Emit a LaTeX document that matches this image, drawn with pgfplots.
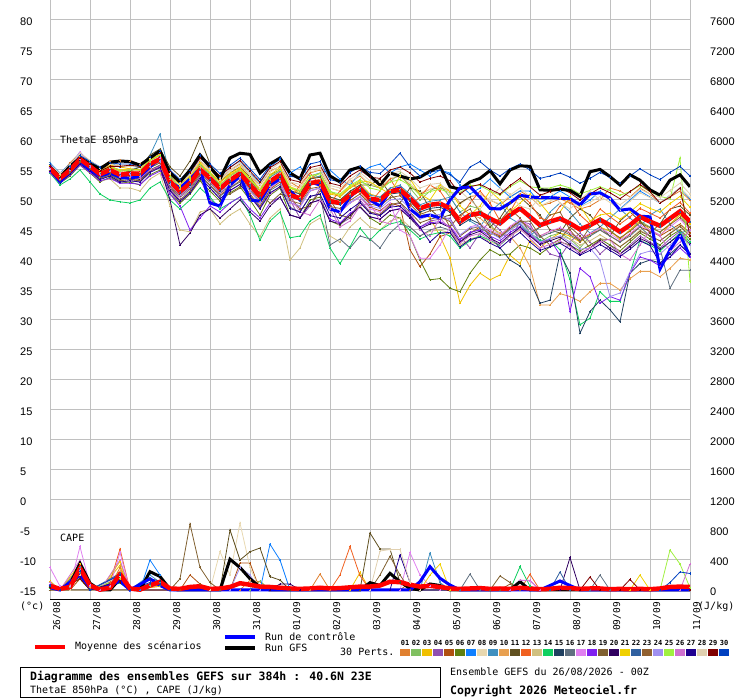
\documentclass[border=0pt]{standalone}
\usepackage{pgfplots}
\pgfplotsset{compat=1.18}
\usepackage{fontspec}
\setmainfont{DejaVu Sans Mono}
\newfontfamily\numf{Liberation Sans}
\definecolor{c01}{HTML}{E08030}\definecolor{c02}{HTML}{80C060}\definecolor{c03}{HTML}{F0C000}
\definecolor{c04}{HTML}{9050B0}\definecolor{c05}{HTML}{B05010}\definecolor{c06}{HTML}{608010}
\definecolor{c07}{HTML}{1080FF}\definecolor{c08}{HTML}{E8D8B0}\definecolor{c09}{HTML}{4090C0}
\definecolor{c10}{HTML}{E8A050}\definecolor{c11}{HTML}{605020}\definecolor{c12}{HTML}{F06020}
\definecolor{c13}{HTML}{D0C080}\definecolor{c14}{HTML}{10D060}\definecolor{c15}{HTML}{204060}
\definecolor{c16}{HTML}{607080}\definecolor{c17}{HTML}{E080F0}\definecolor{c18}{HTML}{8020F0}
\definecolor{c19}{HTML}{806030}\definecolor{c20}{HTML}{300060}\definecolor{c21}{HTML}{F0D000}
\definecolor{c22}{HTML}{3060A0}\definecolor{c23}{HTML}{906030}\definecolor{c24}{HTML}{A090F0}
\definecolor{c25}{HTML}{A0F040}\definecolor{c26}{HTML}{D070D0}\definecolor{c27}{HTML}{200090}
\definecolor{c28}{HTML}{E0D0B0}\definecolor{c29}{HTML}{800000}\definecolor{c30}{HTML}{0040C0}
\definecolor{gridc}{RGB}{192,192,192}
\pgfplotsset{table/tv/.style={header=false,row sep=\\,x expr=\coordindex,y index=0},
 mem/.style={line width=0.8bp, mark=+, mark size=1.2bp, mark options={solid}},
 meanst/.style={red, line width=4.5bp, no marks},
 ctrlst/.style={blue, line width=3bp, no marks},
 gfsst/.style={black, line width=3bp, no marks}}
\begin{document}
\begin{tikzpicture}[font=\fontsize{10bp}{12bp}\selectfont]
\path[use as bounding box] (0bp,0bp) rectangle (740bp,700bp);
\begin{axis}[at={(50bp,100bp)}, anchor=south west, scale only axis, width=640bp, height=600bp,
 xmin=0, xmax=64, ymin=-16.6667, ymax=83.3333,
 xtick={0,4,...,64},
 xticklabels={26/08,27/08,28/08,29/08,30/08,31/08,01/09,02/09,03/09,04/09,05/09,06/09,07/09,08/09,09/09,10/09,11/09},
 ytick={-15,-10,...,80},
 grid=major, grid style={draw=gridc, line width=1bp},
 axis line style={draw=none}, major tick length=0pt,
 xticklabel style={font=\fontsize{9.5bp}{10bp}\selectfont, xshift=7bp, yshift=-2bp, rotate=90, anchor=east, inner sep=0pt},
 yticklabel style={font=\numf\fontsize{11bp}{12bp}\selectfont, anchor=west, inner sep=0pt, xshift=-30bp, yshift=-2bp},
 /pgf/number format/assume math mode=true]
% ---- members ThetaE
\addplot[mem,c01] table[tv]{56.0\\54.2\\56.2\\57.8\\56.5\\55.5\\56.4\\56.6\\56.5\\56.0\\57.2\\57.8\\54.5\\53.0\\54.2\\56.5\\55.0\\53.5\\55.0\\56.0\\54.0\\52.5\\54.8\\55.6\\53.0\\52.0\\54.5\\55.0\\52.0\\51.5\\53.0\\54.0\\52.5\\52.0\\53.5\\54.0\\52.5\\51.0\\51.8\\52.0\\51.5\\49.5\\50.5\\51.0\\50.0\\49.2\\50.5\\51.5\\50.5\\49.0\\49.5\\50.2\\49.5\\48.5\\49.0\\50.0\\52.0\\51.5\\50.5\\52.0\\51.0\\49.5\\50.5\\51.5\\50.0\\};
\addplot[mem,c02] table[tv]{55.0\\53.2\\54.6\\56.5\\55.2\\53.8\\54.2\\53.5\\53.8\\53.6\\55.4\\56.2\\52.0\\50.5\\52.0\\54.5\\53.0\\51.0\\52.5\\53.8\\51.5\\49.5\\52.4\\53.6\\52.0\\51.5\\53.5\\54.5\\51.5\\50.5\\52.0\\53.0\\52.5\\52.0\\53.0\\54.5\\52.0\\50.0\\51.5\\52.5\\50.5\\48.0\\49.0\\48.5\\46.0\\44.0\\45.0\\46.0\\44.5\\43.0\\44.0\\44.5\\43.5\\42.0\\44.0\\45.0\\45.0\\43.5\\45.0\\46.5\\45.5\\44.6\\46.0\\47.5\\45.5\\};
\addplot[mem,c03] table[tv]{55.8\\54.0\\55.5\\57.3\\56.0\\55.0\\55.8\\55.5\\55.2\\55.0\\56.8\\57.5\\54.0\\52.6\\53.8\\56.0\\54.5\\53.0\\54.2\\55.2\\53.5\\51.8\\54.0\\55.0\\52.0\\51.2\\53.6\\54.0\\51.0\\50.6\\52.0\\52.8\\51.0\\50.5\\52.0\\52.5\\50.5\\48.0\\47.0\\44.0\\40.3\\32.8\\35.8\\37.8\\36.7\\37.5\\40.8\\39.4\\43.3\\42.0\\43.5\\44.5\\44.0\\43.0\\44.2\\45.5\\44.8\\43.5\\45.0\\46.5\\45.0\\44.0\\46.0\\47.5\\46.0\\};
\addplot[mem,c04] table[tv]{54.8\\53.0\\54.4\\56.0\\54.8\\53.5\\54.0\\53.0\\53.2\\53.0\\54.8\\55.5\\51.5\\49.5\\51.0\\53.5\\50.0\\49.0\\52.0\\54.0\\52.5\\51.0\\52.0\\53.5\\50.0\\47.0\\49.0\\52.0\\49.5\\46.0\\47.0\\50.0\\48.0\\47.5\\49.0\\49.5\\47.5\\45.5\\46.5\\46.8\\47.0\\44.0\\42.0\\44.5\\46.5\\45.0\\43.0\\46.5\\46.0\\43.0\\41.0\\40.5\\43.0\\44.5\\43.0\\41.0\\42.5\\41.0\\42.5\\44.0\\43.0\\42.0\\43.5\\44.8\\43.0\\};
\addplot[mem,c05] table[tv]{55.2\\53.5\\55.0\\56.6\\55.3\\54.0\\54.6\\53.8\\53.5\\53.2\\55.0\\55.8\\52.0\\50.8\\52.2\\54.2\\52.5\\50.8\\52.0\\53.2\\51.0\\49.0\\51.8\\53.0\\49.5\\49.0\\51.5\\52.0\\48.5\\48.0\\49.5\\50.5\\48.8\\48.2\\49.5\\49.0\\41.7\\38.9\\41.0\\43.9\\44.5\\43.0\\44.5\\45.5\\44.8\\44.0\\45.5\\46.5\\45.5\\44.0\\44.8\\45.2\\44.5\\43.5\\44.3\\45.0\\44.0\\43.0\\44.3\\45.5\\44.8\\44.0\\45.0\\46.0\\44.5\\};
\addplot[mem,c06] table[tv]{54.5\\52.8\\54.0\\55.8\\54.5\\53.0\\53.8\\52.8\\53.0\\52.5\\54.2\\55.0\\51.0\\49.5\\51.0\\53.2\\51.5\\49.8\\51.2\\52.2\\50.0\\47.5\\50.8\\52.0\\47.5\\47.0\\50.0\\50.5\\46.5\\45.8\\47.5\\49.0\\47.0\\46.0\\47.5\\47.0\\44.0\\40.0\\36.7\\36.9\\35.3\\34.7\\37.8\\40.0\\41.7\\40.8\\41.0\\42.5\\42.0\\41.0\\42.2\\43.0\\42.5\\41.5\\42.5\\43.5\\42.5\\41.5\\43.0\\44.5\\43.5\\42.5\\44.0\\45.0\\43.5\\};
\addplot[mem,c07] table[tv]{56.2\\54.5\\56.0\\57.5\\56.5\\55.5\\56.2\\55.5\\55.8\\55.5\\57.0\\58.0\\54.8\\53.0\\54.5\\57.0\\55.5\\53.8\\55.5\\56.5\\54.5\\52.8\\55.5\\56.8\\54.5\\55.5\\54.0\\54.5\\55.0\\53.5\\52.5\\54.5\\55.5\\56.0\\54.5\\55.5\\56.0\\55.0\\54.0\\55.0\\54.5\\52.5\\51.0\\52.0\\53.5\\52.0\\50.5\\51.5\\51.5\\49.5\\50.5\\51.5\\50.5\\49.0\\50.0\\51.5\\50.0\\48.5\\50.0\\51.5\\50.5\\49.5\\50.8\\52.0\\50.2\\};
\addplot[mem,c08] table[tv]{55.9\\54.3\\55.8\\57.6\\56.4\\55.2\\56.0\\55.6\\55.6\\55.4\\56.8\\57.6\\54.2\\52.5\\53.9\\56.3\\55.0\\53.2\\54.8\\55.8\\54.0\\52.0\\54.6\\55.7\\52.5\\52.0\\54.6\\55.2\\52.0\\51.5\\53.0\\54.2\\52.6\\52.2\\53.6\\54.2\\52.8\\51.2\\51.8\\52.4\\51.6\\49.2\\50.6\\51.0\\50.0\\49.3\\50.8\\52.0\\50.6\\49.0\\49.8\\50.6\\49.8\\48.8\\49.6\\50.6\\49.6\\48.4\\49.8\\51.2\\50.4\\49.6\\50.8\\52.0\\50.4\\};
\addplot[mem,c09] table[tv]{56.2\\54.0\\55.8\\58.0\\56.2\\54.8\\55.6\\55.0\\55.0\\55.5\\57.5\\61.0\\54.0\\52.0\\53.5\\56.0\\54.0\\52.5\\54.0\\55.0\\53.0\\51.0\\53.8\\54.8\\51.5\\51.0\\53.5\\54.0\\50.5\\50.0\\51.5\\52.5\\50.8\\50.5\\52.0\\52.4\\51.0\\49.2\\49.8\\50.0\\50.5\\48.0\\46.5\\45.5\\48.0\\49.5\\47.0\\46.0\\44.0\\45.5\\48.0\\49.5\\48.0\\46.0\\44.5\\45.5\\47.0\\48.5\\47.0\\45.5\\47.5\\48.5\\46.0\\44.5\\45.0\\};
\addplot[mem,c10] table[tv]{55.5\\53.8\\55.3\\57.0\\55.8\\54.6\\55.3\\54.6\\54.8\\54.6\\56.2\\57.0\\53.5\\51.8\\53.2\\55.4\\54.0\\52.2\\53.6\\54.8\\52.8\\51.0\\53.4\\54.5\\51.0\\50.5\\53.0\\53.4\\50.0\\49.7\\51.0\\52.0\\50.5\\50.2\\51.6\\51.8\\50.5\\48.8\\49.4\\49.6\\48.8\\46.6\\47.6\\47.0\\45.5\\44.5\\44.0\\42.0\\38.9\\32.5\\32.5\\34.4\\33.9\\33.1\\34.7\\36.1\\36.1\\35.0\\36.9\\38.1\\38.1\\37.2\\38.6\\40.3\\40.0\\};
\addplot[mem,c11] table[tv]{55.0\\53.2\\54.8\\56.4\\55.2\\54.0\\54.8\\54.4\\54.8\\55.5\\57.5\\58.5\\55.5\\54.0\\56.5\\60.4\\56.0\\53.0\\54.5\\55.5\\53.8\\51.6\\54.2\\55.0\\51.6\\51.0\\53.5\\53.8\\50.5\\50.0\\51.4\\52.5\\52.5\\53.5\\51.0\\49.5\\52.0\\51.5\\48.5\\47.0\\47.5\\49.5\\50.5\\48.0\\45.5\\47.0\\49.5\\50.5\\49.0\\47.5\\45.0\\44.5\\47.0\\48.5\\47.5\\45.5\\44.0\\46.5\\48.0\\46.5\\44.5\\46.0\\48.5\\49.0\\47.5\\};
\addplot[mem,c12] table[tv]{55.6\\53.9\\55.4\\57.2\\56.0\\54.8\\55.5\\54.8\\55.0\\55.0\\56.6\\57.4\\53.8\\52.2\\53.6\\55.8\\54.4\\52.6\\54.0\\55.0\\53.2\\51.5\\54.0\\55.0\\50.0\\52.5\\54.5\\52.5\\49.5\\51.5\\53.5\\51.0\\49.5\\51.5\\53.5\\51.0\\49.0\\50.5\\52.5\\51.5\\49.0\\47.0\\49.5\\51.5\\49.5\\46.5\\48.0\\51.0\\49.5\\47.0\\46.5\\49.0\\50.0\\47.5\\46.0\\48.5\\47.2\\46.0\\47.2\\48.6\\47.8\\47.0\\48.4\\49.6\\47.8\\};
\addplot[mem,c13] table[tv]{54.8\\53.0\\54.4\\56.0\\54.8\\53.2\\53.5\\52.0\\52.0\\51.5\\53.5\\54.5\\49.0\\45.0\\44.7\\48.0\\48.5\\46.0\\47.5\\48.5\\46.0\\43.9\\47.0\\48.5\\40.0\\42.0\\46.0\\47.0\\44.0\\43.0\\45.5\\47.0\\45.5\\45.0\\46.5\\47.0\\45.5\\44.0\\44.8\\45.0\\44.5\\42.5\\43.5\\44.0\\43.0\\42.5\\44.0\\45.0\\44.0\\42.8\\43.5\\44.0\\43.5\\42.5\\43.2\\44.2\\43.2\\42.2\\43.5\\45.0\\44.0\\43.2\\44.5\\45.8\\44.0\\};
\addplot[mem,c14] table[tv]{54.5\\52.5\\53.5\\55.0\\53.0\\51.0\\50.0\\49.7\\49.5\\50.0\\52.0\\53.0\\50.0\\48.5\\50.0\\52.0\\50.5\\48.5\\49.5\\50.5\\47.5\\43.3\\46.5\\48.0\\43.7\\44.0\\46.5\\47.5\\42.0\\39.4\\42.2\\45.3\\43.3\\45.0\\46.0\\46.4\\45.0\\43.5\\44.2\\44.6\\44.0\\42.0\\43.2\\44.0\\43.3\\42.5\\44.0\\45.5\\44.5\\43.3\\43.3\\41.7\\36.7\\29.2\\30.3\\34.7\\33.1\\33.1\\37.8\\43.3\\42.5\\41.5\\43.0\\44.5\\43.0\\};
\addplot[mem,c15] table[tv]{55.4\\53.6\\55.0\\56.6\\55.4\\54.0\\54.8\\54.0\\54.2\\54.0\\55.6\\56.4\\52.8\\51.0\\52.5\\54.8\\53.2\\51.5\\53.0\\54.0\\52.0\\50.2\\52.8\\53.8\\50.5\\50.0\\52.5\\52.8\\49.5\\49.2\\50.5\\51.5\\50.0\\49.8\\51.0\\51.2\\49.8\\48.0\\48.6\\48.8\\48.0\\45.8\\46.8\\46.0\\44.0\\42.0\\40.0\\39.0\\36.7\\32.8\\33.3\\41.1\\37.8\\27.8\\31.4\\33.3\\31.7\\29.7\\37.8\\39.4\\40.0\\39.5\\41.0\\42.5\\41.0\\};
\addplot[mem,c16] table[tv]{55.0\\53.3\\54.6\\56.4\\55.0\\53.6\\54.3\\53.4\\53.6\\53.4\\55.0\\55.8\\52.0\\50.4\\51.8\\54.0\\52.4\\50.6\\52.0\\53.0\\50.8\\48.8\\51.6\\52.6\\48.8\\48.0\\50.6\\51.0\\42.5\\43.5\\42.0\\44.0\\43.5\\42.0\\44.5\\46.0\\45.5\\44.0\\45.0\\45.5\\45.0\\43.0\\44.5\\45.2\\44.5\\43.8\\45.2\\46.5\\45.2\\43.8\\44.5\\45.0\\44.2\\43.2\\44.0\\45.0\\44.0\\43.0\\44.0\\45.5\\44.0\\42.0\\35.3\\38.3\\38.3\\};
\addplot[mem,c17] table[tv]{55.6\\53.8\\55.6\\58.0\\56.0\\54.5\\55.3\\54.5\\54.5\\54.2\\56.0\\57.0\\52.5\\50.5\\52.0\\54.8\\53.0\\51.0\\52.5\\53.8\\51.5\\49.5\\52.0\\53.2\\49.5\\48.8\\51.5\\52.0\\48.5\\48.0\\49.5\\50.5\\48.5\\48.0\\49.5\\45.0\\44.0\\40.3\\40.3\\42.5\\45.5\\44.0\\45.5\\46.0\\45.0\\44.2\\45.6\\46.8\\45.5\\44.0\\44.8\\45.4\\44.6\\43.6\\44.4\\45.3\\44.4\\43.3\\44.4\\45.8\\45.0\\44.2\\45.5\\46.8\\45.0\\};
\addplot[mem,c18] table[tv]{54.6\\52.8\\54.2\\55.8\\54.6\\53.2\\53.6\\52.8\\52.8\\52.6\\54.0\\54.8\\51.0\\49.0\\45.0\\47.0\\49.0\\48.0\\49.5\\50.5\\48.5\\47.0\\49.5\\50.5\\47.5\\47.0\\49.5\\50.0\\46.8\\46.2\\47.8\\48.8\\47.2\\46.8\\48.2\\48.6\\47.2\\45.5\\46.2\\46.4\\45.6\\43.4\\44.6\\45.0\\44.0\\43.2\\44.6\\45.6\\44.2\\42.8\\43.5\\40.8\\31.4\\38.6\\37.2\\32.8\\33.9\\33.3\\37.8\\40.5\\40.0\\39.0\\40.5\\42.0\\40.5\\};
\addplot[mem,c19] table[tv]{54.9\\53.0\\54.5\\56.2\\55.0\\53.6\\54.2\\53.2\\53.4\\53.2\\54.8\\55.6\\51.8\\50.0\\51.5\\53.8\\54.5\\52.5\\51.0\\52.0\\53.5\\51.0\\49.5\\51.0\\50.5\\48.5\\49.0\\51.5\\50.0\\47.5\\47.0\\49.5\\48.0\\47.6\\49.2\\49.6\\48.0\\46.2\\46.8\\47.2\\46.4\\44.0\\45.2\\45.6\\44.6\\43.8\\45.2\\46.4\\46.5\\44.0\\42.5\\43.5\\45.5\\44.0\\42.0\\43.5\\43.4\\42.2\\43.4\\44.8\\44.0\\43.2\\44.4\\45.6\\44.0\\};
\addplot[mem,c20] table[tv]{55.0\\53.4\\54.8\\56.6\\55.4\\54.0\\54.6\\53.6\\53.8\\53.5\\55.0\\55.6\\50.0\\42.5\\44.5\\47.5\\48.5\\47.0\\48.5\\50.0\\48.0\\46.5\\49.0\\50.5\\47.5\\47.0\\49.5\\50.0\\46.5\\46.0\\47.5\\48.8\\47.2\\46.8\\48.2\\48.5\\47.0\\45.2\\46.0\\46.2\\45.4\\43.0\\44.2\\44.8\\43.6\\42.8\\44.2\\45.4\\44.0\\42.6\\43.2\\43.8\\42.6\\41.0\\42.0\\43.2\\42.0\\41.0\\42.2\\43.6\\42.8\\41.8\\43.0\\44.2\\42.6\\};
\addplot[mem,c21] table[tv]{55.8\\54.0\\55.5\\57.2\\56.0\\54.8\\55.6\\55.0\\55.2\\55.0\\56.8\\57.6\\54.2\\52.6\\54.0\\56.2\\54.6\\53.0\\54.4\\55.4\\53.6\\51.8\\54.2\\55.4\\52.2\\51.6\\54.0\\54.4\\51.2\\50.8\\52.2\\53.2\\53.0\\52.0\\51.0\\54.0\\53.5\\51.0\\50.0\\52.5\\51.5\\49.0\\47.5\\49.0\\51.5\\50.0\\48.0\\49.5\\51.0\\49.5\\47.5\\48.0\\50.5\\49.0\\46.5\\47.5\\47.8\\46.8\\48.0\\49.4\\48.6\\48.0\\49.4\\50.6\\48.8\\};
\addplot[mem,c22] table[tv]{55.4\\53.7\\55.1\\56.8\\55.6\\54.3\\55.0\\54.2\\54.3\\54.3\\55.9\\56.6\\53.0\\51.3\\52.7\\55.0\\53.5\\51.8\\53.2\\54.3\\52.4\\50.5\\53.0\\54.0\\50.7\\50.2\\52.7\\53.0\\49.7\\49.4\\50.7\\51.8\\50.1\\49.9\\51.3\\51.6\\50.2\\48.5\\49.1\\49.3\\48.5\\46.3\\47.4\\47.7\\46.8\\46.0\\47.4\\48.5\\47.1\\45.7\\46.3\\46.8\\46.0\\45.0\\45.7\\46.6\\45.7\\44.6\\45.7\\47.1\\46.3\\45.6\\46.8\\48.0\\46.3\\};
\addplot[mem,c23] table[tv]{55.0\\53.3\\54.7\\56.5\\55.3\\54.0\\54.6\\53.8\\54.0\\53.8\\55.4\\56.2\\52.4\\50.7\\52.1\\54.4\\52.9\\51.1\\52.5\\53.6\\51.7\\49.8\\52.3\\53.4\\49.9\\49.4\\51.9\\52.2\\48.9\\48.6\\49.9\\51.0\\49.3\\49.0\\50.4\\50.7\\49.3\\47.6\\48.2\\48.4\\45.5\\47.5\\48.5\\46.0\\44.0\\46.5\\48.5\\47.0\\44.5\\45.5\\47.5\\48.0\\45.0\\43.0\\45.5\\47.0\\44.8\\43.7\\44.8\\46.2\\45.4\\44.7\\45.9\\47.1\\45.4\\};
\addplot[mem,c24] table[tv]{55.2\\53.5\\55.0\\56.8\\55.5\\54.2\\54.8\\54.0\\54.2\\54.0\\55.6\\56.4\\52.6\\50.8\\52.2\\54.6\\53.0\\51.2\\52.6\\53.6\\51.6\\49.6\\52.2\\53.2\\49.6\\49.0\\51.6\\52.0\\48.6\\48.2\\49.6\\50.6\\49.0\\48.6\\50.0\\50.2\\48.6\\46.8\\47.4\\47.6\\46.6\\44.2\\45.4\\45.6\\44.6\\43.6\\45.0\\46.2\\44.6\\43.0\\43.6\\44.0\\43.0\\41.8\\42.0\\40.0\\33.9\\34.5\\38.0\\41.0\\41.5\\41.0\\42.5\\44.0\\42.5\\};
\addplot[mem,c25] table[tv]{55.6\\53.9\\55.3\\57.0\\55.9\\54.7\\55.4\\54.8\\55.0\\55.0\\56.6\\57.4\\53.8\\52.2\\53.6\\55.8\\54.4\\52.6\\54.0\\55.0\\53.4\\51.6\\54.0\\55.0\\52.0\\51.6\\54.0\\54.4\\51.4\\51.0\\52.4\\53.4\\52.0\\51.6\\53.0\\53.4\\52.4\\50.8\\51.4\\51.8\\51.2\\51.2\\52.4\\52.4\\51.5\\50.8\\52.2\\53.2\\52.2\\52.0\\52.0\\52.5\\52.0\\51.0\\51.6\\52.2\\51.6\\50.8\\51.4\\52.4\\51.4\\50.6\\50.2\\57.0\\36.4\\};
\addplot[mem,c26] table[tv]{55.4\\53.8\\55.4\\57.4\\55.8\\54.2\\54.8\\53.8\\53.8\\53.6\\55.0\\55.6\\51.8\\49.8\\51.2\\53.8\\52.0\\50.2\\51.5\\52.6\\50.5\\48.5\\51.0\\52.2\\50.5\\48.0\\47.5\\50.0\\48.5\\45.5\\46.5\\49.0\\49.5\\46.5\\46.0\\48.5\\48.0\\45.0\\44.0\\47.0\\45.2\\42.8\\44.0\\44.4\\43.4\\42.6\\44.0\\45.2\\43.6\\42.0\\42.6\\43.2\\42.2\\41.2\\42.0\\43.0\\43.5\\41.0\\40.0\\42.5\\45.0\\44.0\\41.5\\43.0\\45.0\\};
\addplot[mem,c27] table[tv]{54.8\\52.9\\54.3\\56.0\\54.8\\53.4\\54.0\\53.0\\53.2\\53.0\\54.6\\55.4\\51.6\\49.8\\51.2\\53.6\\52.0\\50.2\\51.6\\52.6\\50.6\\48.6\\51.2\\52.2\\48.6\\48.0\\50.6\\51.0\\47.4\\47.0\\48.4\\49.6\\47.8\\47.4\\48.8\\49.0\\47.4\\45.4\\43.0\\44.5\\44.6\\42.2\\43.4\\43.8\\42.8\\42.0\\43.4\\44.6\\43.0\\41.6\\42.2\\42.8\\41.8\\40.8\\41.6\\42.6\\41.6\\40.6\\41.8\\43.2\\42.4\\39.5\\40.5\\42.5\\41.0\\};
\addplot[mem,c28] table[tv]{56.0\\54.4\\55.9\\57.8\\56.6\\55.4\\56.2\\55.8\\55.8\\55.6\\57.0\\57.8\\54.4\\52.8\\54.2\\56.6\\55.2\\53.6\\55.0\\56.2\\54.4\\52.6\\55.0\\56.2\\53.0\\52.6\\55.0\\55.4\\52.4\\52.0\\53.4\\54.6\\53.2\\53.0\\54.4\\54.8\\53.6\\52.0\\52.6\\52.8\\51.0\\51.5\\50.0\\48.5\\50.5\\52.0\\51.0\\49.0\\48.5\\50.5\\51.5\\49.5\\48.5\\50.0\\51.5\\50.0\\50.2\\49.2\\50.4\\51.8\\51.0\\50.4\\51.6\\52.8\\51.0\\};
\addplot[mem,c29] table[tv]{55.6\\53.8\\55.2\\57.0\\56.0\\54.8\\55.6\\55.6\\55.8\\55.6\\57.2\\57.8\\54.8\\53.2\\54.6\\57.0\\55.6\\54.0\\55.4\\56.6\\54.8\\53.0\\55.4\\56.4\\53.4\\53.0\\55.4\\55.8\\52.8\\52.4\\54.0\\55.0\\53.8\\53.6\\55.0\\55.5\\54.5\\53.0\\53.6\\54.0\\53.2\\51.0\\52.2\\52.6\\51.8\\51.0\\52.4\\53.6\\52.2\\50.8\\51.4\\52.0\\51.2\\50.0\\51.0\\52.0\\51.2\\50.2\\51.4\\52.6\\51.4\\49.5\\50.5\\52.0\\44.0\\};
\addplot[mem,c30] table[tv]{56.0\\53.0\\55.6\\57.4\\56.4\\55.4\\56.2\\56.0\\56.0\\55.8\\57.2\\58.2\\55.0\\53.4\\55.0\\57.4\\56.0\\54.4\\55.8\\57.0\\55.2\\53.4\\55.8\\57.0\\54.0\\53.6\\56.0\\56.4\\53.4\\53.0\\54.6\\55.6\\54.6\\54.4\\56.0\\57.8\\55.5\\54.0\\54.6\\55.0\\54.2\\53.0\\55.5\\56.4\\55.0\\54.0\\55.2\\56.0\\55.0\\53.6\\54.0\\54.5\\53.8\\52.8\\53.6\\54.6\\53.8\\52.8\\54.0\\55.2\\54.2\\53.4\\54.6\\55.6\\54.0\\};
% ---- GFS, control, mean
\addplot[gfsst] table[tv]{55.5\\53.8\\55.6\\57.0\\56.0\\55.2\\56.3\\56.5\\56.4\\55.8\\57.0\\58.2\\54.5\\53.0\\55.0\\57.5\\55.5\\53.5\\57.0\\57.8\\57.6\\54.5\\56.0\\57.0\\54.5\\53.5\\57.5\\57.8\\54.0\\53.0\\55.0\\55.5\\54.0\\52.5\\54.5\\54.0\\53.5\\53.8\\54.8\\55.6\\52.2\\51.8\\53.0\\53.6\\54.9\\52.7\\55.0\\55.7\\55.6\\51.7\\51.6\\51.8\\51.6\\50.6\\54.7\\55.1\\53.9\\52.5\\54.2\\53.3\\51.7\\50.8\\53.3\\54.2\\52.2\\};
\addplot[ctrlst] table[tv]{55.6\\53.0\\55.0\\56.5\\55.0\\54.0\\54.5\\53.8\\53.6\\54.0\\55.5\\57.0\\53.0\\52.0\\53.5\\55.2\\49.5\\49.0\\52.5\\54.0\\50.0\\49.8\\52.5\\53.5\\51.5\\50.0\\53.0\\52.5\\48.5\\48.0\\50.5\\52.0\\50.0\\49.0\\51.5\\52.0\\48.5\\47.2\\47.5\\47.0\\50.0\\52.0\\52.2\\50.5\\48.6\\48.5\\49.5\\50.8\\50.5\\50.4\\50.4\\50.3\\50.2\\49.2\\51.0\\51.2\\50.3\\48.3\\48.5\\47.3\\47.2\\38.5\\41.7\\44.2\\40.6\\};
\addplot[meanst] table[tv]{55.3\\53.6\\55.0\\56.8\\55.6\\54.3\\55.0\\54.2\\54.4\\54.4\\56.0\\56.8\\53.1\\51.4\\52.8\\55.1\\53.6\\51.9\\53.3\\54.4\\52.5\\50.6\\53.1\\54.2\\50.8\\50.3\\52.8\\53.1\\49.8\\49.5\\50.8\\51.9\\50.2\\50.0\\51.4\\51.7\\50.3\\48.6\\49.2\\49.4\\48.6\\46.4\\47.5\\47.8\\46.9\\46.1\\47.5\\48.6\\47.2\\45.8\\46.4\\46.9\\46.1\\45.1\\45.8\\46.7\\45.8\\44.7\\45.8\\47.2\\46.4\\45.7\\46.9\\48.1\\46.4\\};
\end{axis}
\begin{axis}[at={(50bp,100bp)}, anchor=south west, scale only axis, width=640bp, height=600bp,
 xmin=0, xmax=64, ymin=-133.333, ymax=7866.667,
 axis x line=none, axis y line*=right, axis line style={draw=none}, major tick length=0pt,
 ytick={0,400,...,7600}, scaled y ticks=false,
 /pgf/number format/set thousands separator={},
 yticklabel style={font=\numf\fontsize{11bp}{12bp}\selectfont, anchor=west, inner sep=0pt, xshift=20bp, yshift=-2bp},
 /pgf/number format/assume math mode=true]
\addplot[mem,c01] coordinates {(0,80)(1,0)(2,60)(3,250)(4,40)(5,0)(6,40)(7,300)(8,0)(10,80)(11,50)(12,0)(19,0)(20,130)(21,110)(22,0)(26,0)(27,213)(28,0)(64,0)};
\addplot[mem,c02] coordinates {(0,60)(1,0)(2,40)(3,180)(4,30)(5,0)(7,220)(8,0)(10,60)(11,120)(12,0)(20,0)(21,120)(22,0)(64,0)};
\addplot[mem,c03] coordinates {(0,120)(1,0)(3,300)(4,50)(5,0)(7,330)(8,0)(11,80)(12,0)(30,0)(31,232)(32,0)(64,0)};
\addplot[mem,c04] coordinates {(0,50)(1,0)(3,200)(4,0)(7,150)(8,0)(11,60)(12,0)(64,0)};
\addplot[mem,c05] coordinates {(0,0)(2,0)(3,150)(4,0)(7,100)(8,0)(13,0)(14,200)(15,80)(16,0)(18,0)(19,360)(20,360)(21,0)(35,0)(36,100)(37,0)(64,0)};
\addplot[mem,c06] coordinates {(0,100)(1,0)(3,220)(4,0)(7,180)(8,0)(11,100)(12,0)(64,0)};
\addplot[mem,c07] coordinates {(0,40)(1,0)(3,250)(4,30)(5,0)(7,200)(8,0)(9,0)(10,400)(11,200)(12,0)(21,0)(22,610)(23,400)(24,0)(64,0)};
\addplot[mem,c08] coordinates {(0,20)(2,0)(3,200)(4,0)(7,150)(8,0)(16,0)(17,511)(18,200)(19,893)(20,300)(21,0)(64,0)};
\addplot[mem,c09] coordinates {(0,100)(1,0)(3,300)(4,0)(7,200)(8,0)(10,200)(11,100)(12,0)(37,0)(38,493)(39,100)(40,0)(64,0)};
\addplot[mem,c10] coordinates {(0,60)(1,0)(3,230)(4,40)(5,0)(7,250)(8,0)(11,60)(12,0)(64,0)};
\addplot[mem,c11] coordinates {(0,0)(17,0)(18,800)(19,400)(20,510)(21,560)(22,178)(23,133)(24,0)(31,0)(32,760)(33,547)(34,547)(35,100)(36,0)(64,0)};
\addplot[mem,c12] coordinates {(0,60)(1,0)(3,280)(4,30)(5,0)(6,100)(7,546)(8,0)(11,50)(12,0)(28,0)(29,200)(30,578)(31,190)(32,0)(47,0)(48,210)(49,0)(64,0)};
\addplot[mem,c13] coordinates {(0,40)(1,0)(3,180)(4,0)(7,120)(8,0)(64,0)};
\addplot[mem,c14] coordinates {(0,20)(1,0)(3,150)(4,0)(7,90)(8,0)(46,0)(47,311)(48,50)(49,0)(64,0)};
\addplot[mem,c15] coordinates {(0,50)(1,0)(3,200)(4,0)(7,130)(8,0)(10,150)(11,120)(12,0)(64,0)};
\addplot[mem,c16] coordinates {(0,40)(1,0)(3,220)(4,0)(7,160)(8,0)(11,80)(12,0)(41,0)(42,213)(43,0)(54,0)(55,200)(56,0)(64,0)};
\addplot[mem,c17] coordinates {(0,300)(1,50)(2,50)(3,578)(4,60)(5,0)(6,50)(7,500)(8,0)(11,60)(12,0)(35,0)(36,498)(37,200)(38,50)(39,0)(46,0)(47,130)(48,120)(49,0)(64,0)};
\addplot[mem,c18] coordinates {(0,80)(1,0)(3,250)(4,0)(7,200)(8,0)(64,0)};
\addplot[mem,c19] coordinates {(0,0)(12,0)(13,150)(14,880)(15,300)(16,100)(17,0)(32,0)(33,200)(34,450)(35,200)(36,0)(44,0)(45,187)(46,100)(47,0)(64,0)};
\addplot[mem,c20] coordinates {(0,30)(1,0)(3,180)(4,0)(7,130)(8,0)(22,0)(23,80)(24,80)(25,0)(51,0)(52,431)(53,0)(64,0)};
\addplot[mem,c21] coordinates {(0,100)(1,0)(3,350)(4,40)(5,0)(7,380)(8,0)(11,50)(12,0)(37,0)(38,200)(39,347)(40,0)(58,0)(59,200)(60,0)(64,0)};
\addplot[mem,c22] coordinates {(0,60)(1,0)(3,270)(4,0)(7,220)(8,0)(10,80)(11,60)(12,0)(50,0)(51,240)(52,0)(64,0)};
\addplot[mem,c23] coordinates {(0,40)(1,0)(3,200)(4,0)(7,140)(8,0)(45,0)(46,80)(47,0)(64,0)};
\addplot[mem,c24] coordinates {(0,60)(1,0)(3,260)(4,0)(7,180)(8,0)(18,0)(19,300)(20,200)(21,0)(64,0)};
\addplot[mem,c25] coordinates {(0,30)(1,0)(3,200)(4,0)(7,150)(8,0)(61,0)(62,533)(63,347)(64,30)};
\addplot[mem,c26] coordinates {(0,100)(1,0)(3,400)(4,50)(5,0)(7,400)(8,0)(11,80)(12,0)(46,0)(47,130)(48,130)(49,0)(63,0)(64,347)};
\addplot[mem,c27] coordinates {(0,40)(1,0)(3,180)(4,0)(7,120)(8,0)(34,0)(35,467)(36,100)(37,0)(64,0)};
\addplot[mem,c28] coordinates {(0,40)(1,0)(3,200)(4,0)(7,180)(8,0)(32,0)(33,520)(34,540)(35,540)(36,100)(37,0)(64,0)};
\addplot[mem,c29] coordinates {(0,30)(1,0)(3,150)(4,0)(7,100)(8,0)(53,0)(54,173)(55,0)(57,0)(58,140)(59,0)(64,0)};
\addplot[mem,c30] coordinates {(0,60)(1,0)(3,250)(4,0)(7,200)(8,0)(10,100)(11,80)(12,0)(61,0)(62,100)(63,240)(64,220)};
\addplot[gfsst] coordinates {(0,40)(1,10)(2,80)(3,355)(4,90)(5,0)(6,0)(7,150)(8,10)(9,0)(10,244)(11,180)(12,10)(13,0)(17,0)(18,410)(19,300)(20,150)(21,40)(22,0)(31,0)(32,98)(33,60)(34,222)(35,111)(36,20)(37,0)(38,80)(39,60)(40,0)(46,0)(47,111)(48,0)(64,0)};
\addplot[ctrlst] coordinates {(0,30)(1,0)(3,200)(4,40)(5,0)(7,120)(8,0)(10,150)(11,60)(12,0)(36,0)(37,111)(38,311)(39,156)(40,67)(41,0)(49,0)(50,60)(51,120)(52,60)(53,0)(64,0)};
\addplot[meanst] coordinates {(0,55)(1,15)(2,40)(3,290)(4,60)(5,5)(6,30)(7,210)(8,20)(9,5)(10,60)(11,110)(12,20)(13,15)(14,40)(15,50)(16,15)(17,20)(18,40)(19,90)(20,70)(21,45)(22,40)(23,30)(24,20)(25,15)(26,20)(27,30)(28,20)(29,25)(30,35)(31,45)(32,45)(33,60)(34,110)(35,105)(36,70)(37,45)(38,55)(39,40)(40,20)(41,15)(42,20)(43,25)(44,15)(45,20)(46,15)(47,30)(48,20)(49,10)(50,15)(51,30)(52,25)(53,15)(54,20)(55,20)(56,10)(57,15)(58,10)(59,15)(60,10)(61,20)(62,40)(63,45)(64,40)};
\end{axis}
% bottom axis line
\draw[black, line width=1bp] (50bp,100bp) -- (690bp,100bp);
% in-plot labels
\node[anchor=west, inner sep=0pt] at (60bp,560bp) {ThetaE 850hPa};
\node[anchor=west, inner sep=0pt] at (60bp,162bp) {CAPE};
\node[anchor=west, inner sep=0pt] at (20bp,94bp) {(°c)};
\node[anchor=west, inner sep=0pt] at (698bp,93bp) {(J/kg)};
% legend
\draw[red, line width=4.5bp] (35bp,53bp) -- (65bp,53bp);
\node[anchor=west, inner sep=0pt] at (75bp,53bp) {Moyenne des scénarios};
\draw[blue, line width=4bp] (225bp,63bp) -- (255bp,63bp);
\node[anchor=west, inner sep=0pt] at (265bp,63bp) {Run de contrôle};
\draw[black, line width=4bp] (225bp,52bp) -- (255bp,52bp);
\node[anchor=west, inner sep=0pt] at (265bp,52bp) {Run GFS};
\node[anchor=west, inner sep=0pt] at (340bp,48bp) {30 Perts.};
\foreach \n [count=\k from 0] in {01,02,03,04,05,06,07,08,09,10,11,12,13,14,15,16,17,18,19,20,21,22,23,24,25,26,27,28,29,30}{
  \fill[c\n] ({400bp+11bp*\k},44bp) rectangle ({410bp+11bp*\k},51bp);
  \node[inner sep=0pt, font=\bfseries\fontsize{7bp}{8bp}\selectfont] at ({405bp+11bp*\k},57bp) {\n};
}
% footer
\draw[black, line width=1bp] (20bp,2bp) rectangle (440bp,32bp);
\node[anchor=west, inner sep=0pt, font=\bfseries\fontsize{11.5bp}{13bp}\selectfont] at (30bp,23bp) {Diagramme des ensembles GEFS sur 384h : 40.6N 23E};
\node[anchor=west, inner sep=0pt] at (30bp,9bp) {ThetaE 850hPa (°C) , CAPE (J/kg)};
\node[anchor=west, inner sep=0pt] at (450bp,28bp) {Ensemble GEFS du 26/08/2026 - 00Z};
\node[anchor=west, inner sep=0pt, font=\bfseries\fontsize{11.5bp}{13bp}\selectfont] at (450bp,9bp) {Copyright 2026 Meteociel.fr};
\end{tikzpicture}
\end{document}
